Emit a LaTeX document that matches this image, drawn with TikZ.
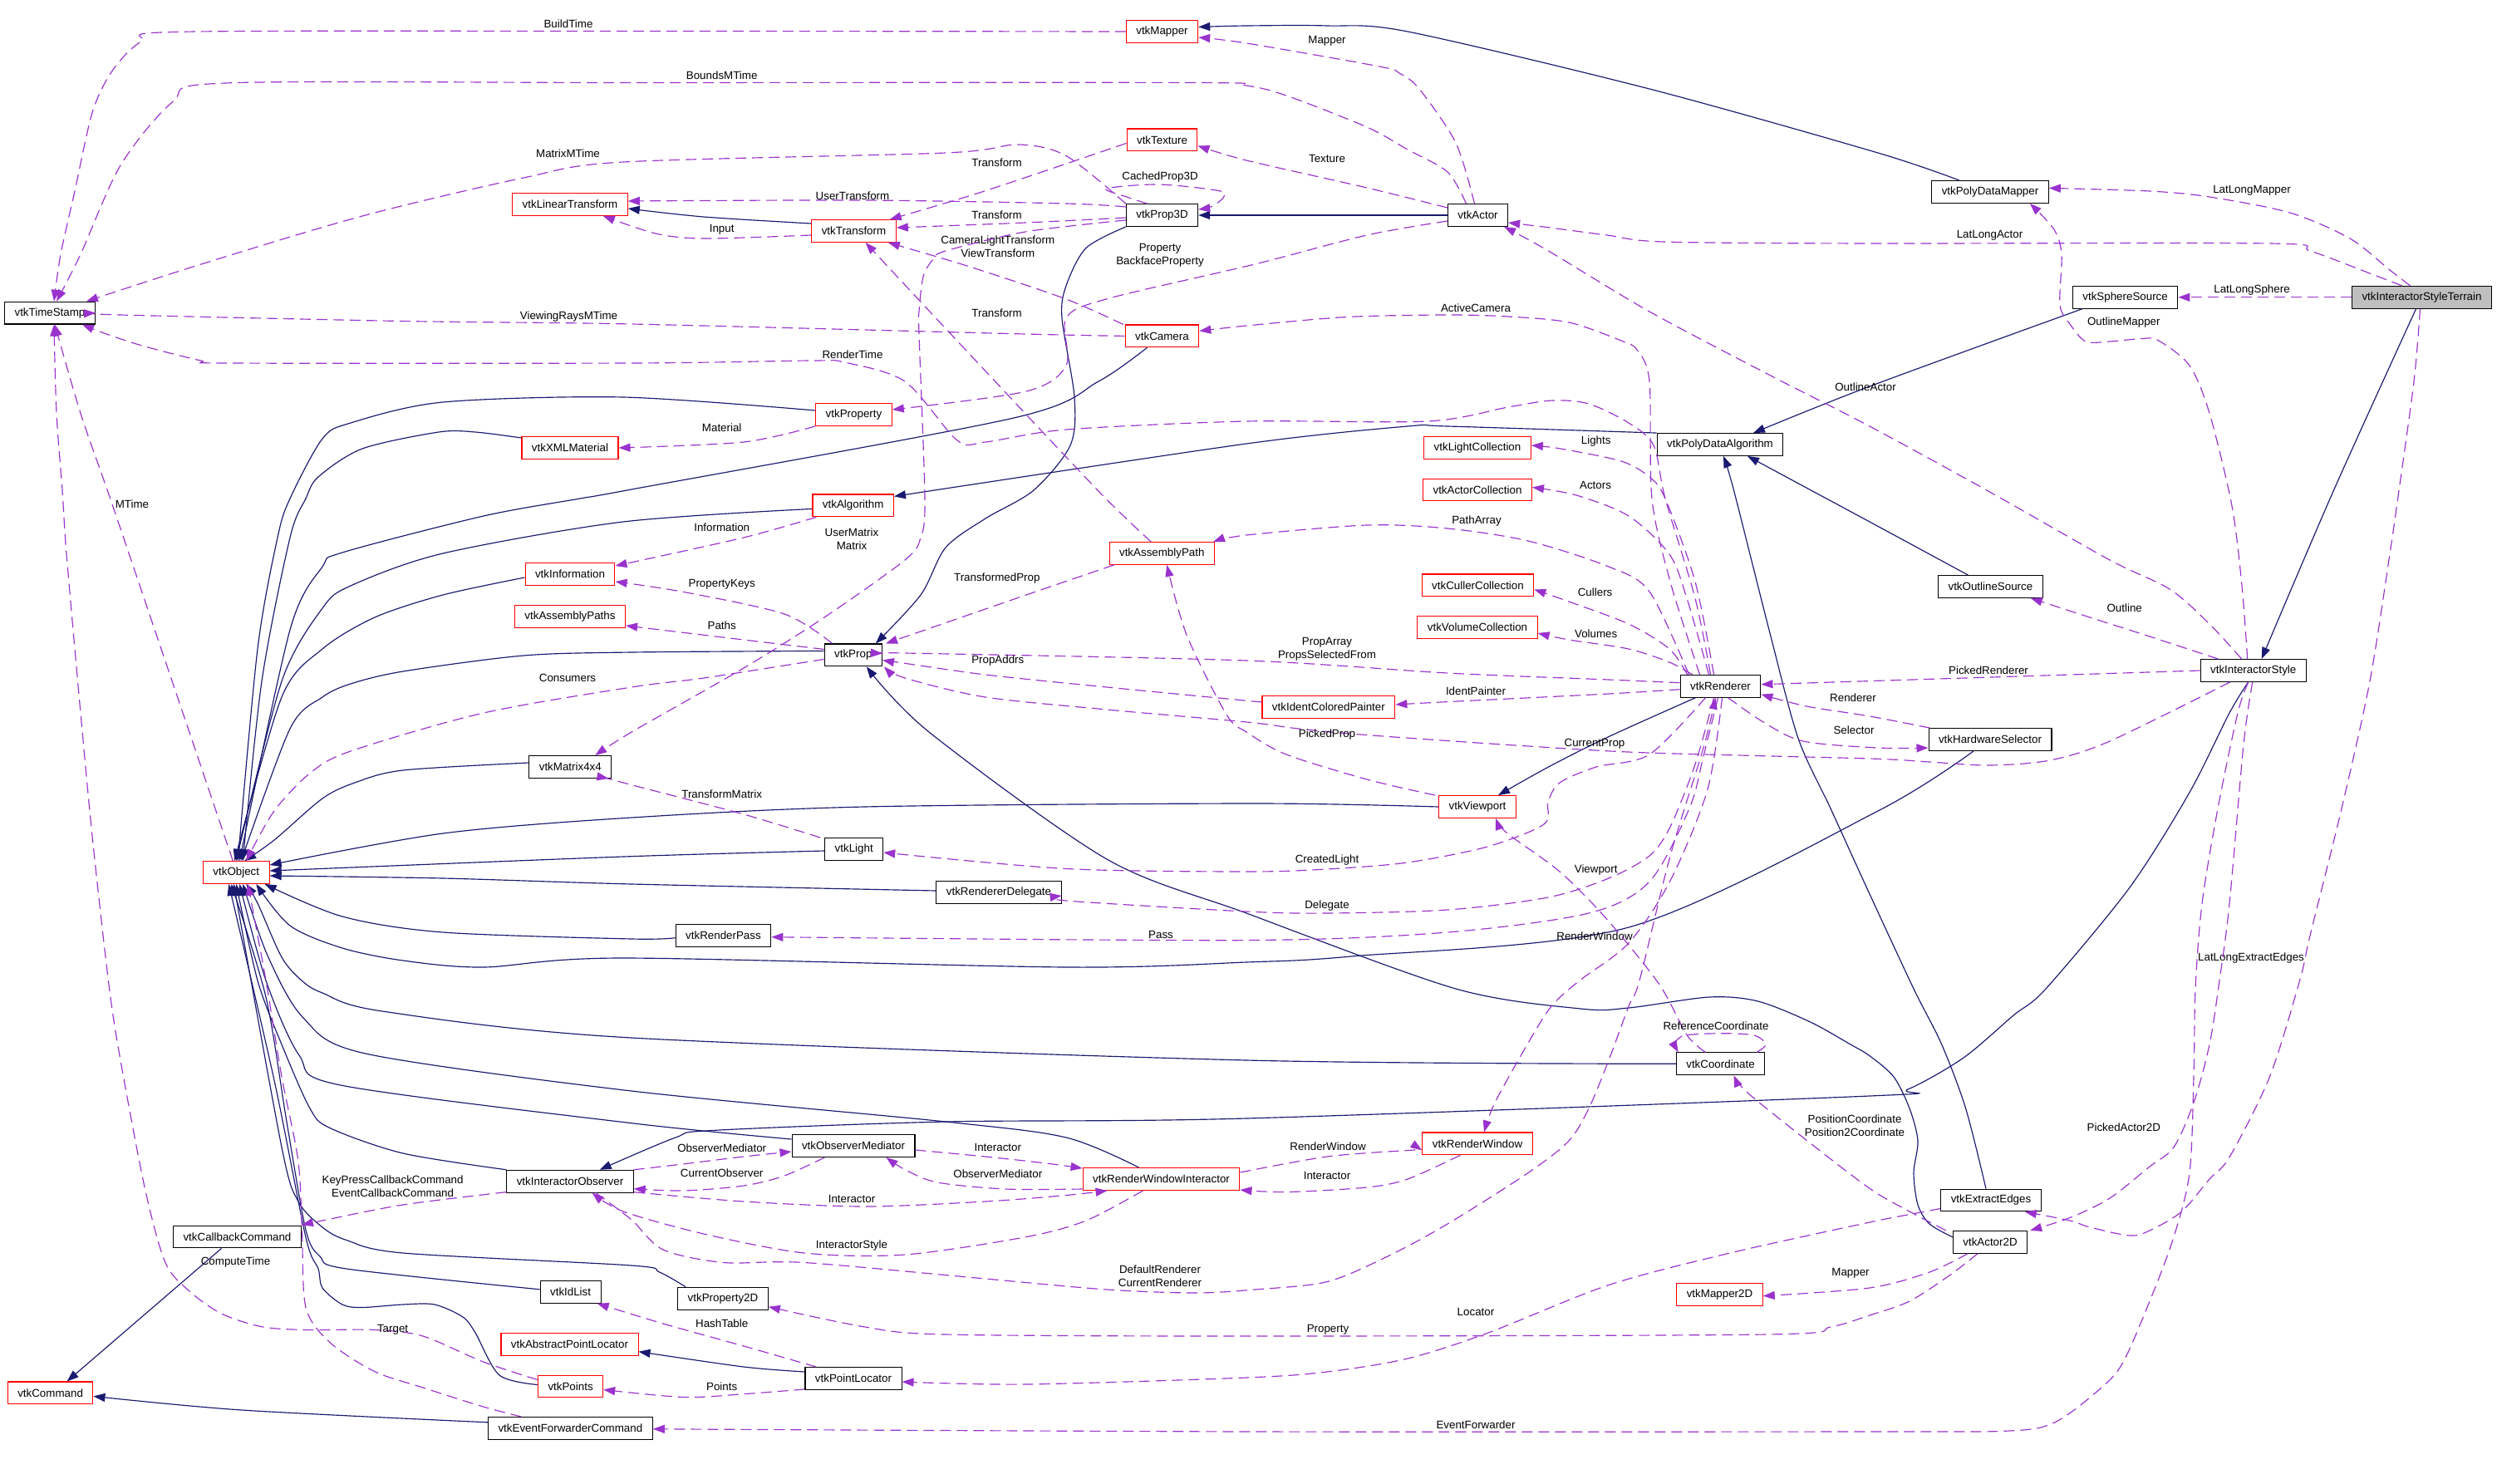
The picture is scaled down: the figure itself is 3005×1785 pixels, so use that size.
\documentclass[tikz,border=0pt]{standalone}
\usepackage{fontspec}
\usetikzlibrary{arrows.meta,calc}
\newfontfamily\lsans{Liberation Sans}
\newcommand\myfnt{\lsans\fontsize{3.8pt}{4.55pt}\selectfont}
\definecolor{navyc}{HTML}{191970}
\definecolor{orch}{HTML}{9A32CD}
\definecolor{grayfill}{HTML}{BFBFBF}
\tikzset{
 cls/.style={draw=black, line width=0.3pt, rectangle, inner xsep=1.2mm, inner ysep=0pt, minimum height=2.68mm, font=\myfnt},
 rcls/.style={cls, draw=red},
 lbl/.style={font=\myfnt, inner sep=0pt, align=center},
 inh/.style={draw=navyc, line width=0.33pt, -{Triangle[length=1.4mm,width=1.0mm]}},
 dep/.style={draw=orch, line width=0.33pt, dash pattern=on 1.3mm off 0.7mm, -{Triangle[length=1.4mm,width=1.0mm]}}
}
\begin{document}
\begin{tikzpicture}[x=0.1mm,y=-0.1mm]
\useasboundingbox (0,0) rectangle (3005,1785);
\fill[white] (0,0) rectangle (3005,1785);
% nodes
\node[cls] (ts) at (60,376.6) {vtkTimeStamp};
\node[rcls] (lintr) at (686,246) {vtkLinearTransform};
\node[rcls] (xmlmat) at (686,539) {vtkXMLMaterial};
\node[rcls] (mapper) at (1398.5,38) {vtkMapper};
\node[rcls] (texture) at (1398.5,168.4) {vtkTexture};
\node[cls] (prop3d) at (1398.5,259) {vtkProp3D};
\node[rcls] (transform) at (1027.5,278) {vtkTransform};
\node[rcls] (camera) at (1398.5,404.4) {vtkCamera};
\node[rcls] (property) at (1027.5,499) {vtkProperty};
\node[cls] (actor) at (1778.5,259) {vtkActor};
\node[cls] (pda) at (2070,535) {vtkPolyDataAlgorithm};
\node[rcls] (lightcoll) at (1778,539) {vtkLightCollection};
\node[rcls] (actorcoll) at (1778,589.5) {vtkActorCollection};
\node[cls] (pdm) at (2395,231) {vtkPolyDataMapper};
\node[cls] (sphere) at (2557.6,357.8) {vtkSphereSource};
\node[cls, fill=grayfill] (terrain) at (2914.5,357.8) {vtkInteractorStyleTerrain};
\node[rcls] (info) at (686,691) {vtkInformation};
\node[rcls] (apaths) at (686,742) {vtkAssemblyPaths};
\node[cls] (matrix) at (686.3,923) {vtkMatrix4x4};
\node[rcls] (object) at (284.3,1050) {vtkObject};
\node[rcls] (algo) at (1026.7,608.4) {vtkAlgorithm};
\node[rcls] (apath) at (1398.3,666) {vtkAssemblyPath};
\node[cls] (prop) at (1026.8,788.4) {vtkProp};
\node[cls] (light) at (1027.7,1022) {vtkLight};
\node[cls] (rdelegate) at (1202,1074) {vtkRendererDelegate};
\node[cls] (rpass) at (870.5,1125.7) {vtkRenderPass};
\node[rcls] (culler) at (1778.5,704.4) {vtkCullerCollection};
\node[rcls] (volcoll) at (1778,755) {vtkVolumeCollection};
\node[cls] (renderer) at (2070.5,825.7) {vtkRenderer};
\node[rcls] (icp) at (1598.9,851) {vtkIdentColoredPainter};
\node[rcls] (viewport) at (1778,971) {vtkViewport};
\node[cls] (outline) at (2395.4,706) {vtkOutlineSource};
\node[cls] (istyle) at (2711.7,807) {vtkInteractorStyle};
\node[cls] (hws) at (2395,890) {vtkHardwareSelector};
\node[cls] (iobs) at (686,1421.7) {vtkInteractorObserver};
\node[cls] (cbcmd) at (285.5,1488.5) {vtkCallbackCommand};
\node[cls] (idlist) at (686.6,1554.8) {vtkIdList};
\node[rcls] (apl) at (685.5,1617.7) {vtkAbstractPointLocator};
\node[rcls] (points) at (686.6,1668.5) {vtkPoints};
\node[rcls] (command) at (60.6,1676.4) {vtkCommand};
\node[cls] (efc) at (686.4,1718.8) {vtkEventForwarderCommand};
\node[cls] (obsmed) at (1027,1379) {vtkObserverMediator};
\node[rcls] (rwi) at (1397.5,1419) {vtkRenderWindowInteractor};
\node[cls] (prop2d) at (870,1562.7) {vtkProperty2D};
\node[cls] (ploc) at (1027,1659) {vtkPointLocator};
\node[rcls] (rwin) at (1778,1376.4) {vtkRenderWindow};
\node[cls] (coord) at (2070.5,1280.3) {vtkCoordinate};
\node[rcls] (mapper2d) at (2069.5,1557.7) {vtkMapper2D};
\node[cls] (extract) at (2396,1444.5) {vtkExtractEdges};
\node[cls] (actor2d) at (2395,1494.8) {vtkActor2D};
% inheritance
\draw[inh] plot[smooth] coordinates {($(pdm.north)+(-37,0)$) (2260,184) (1985,107) (1694,38) (1597,31) (1500,31) ($(mapper.east)+(0,-5.5)$)};
\draw[inh] (actor.west) -- (prop3d.east);
\draw[inh] plot[smooth] coordinates {(prop3d.south west) (1307,298.5) (1283,344) (1278,383) (1293,478) (1288,536) (1244,590) (1186,624) (1138,659) (1108,716) ($(prop.north)+(27,0)$)};
\draw[inh] plot[smooth] coordinates {($(transform.west)+(0,-9)$) (847,261) ($(lintr.east)+(0,5)$)};
\draw[inh] plot[smooth] coordinates {($(camera.south)+(-18,0)$) (1322,459) (1220,503) (760,589) (698,600) (582,621) (412,665) (388,682) (349,758) ($(object.north)+(4,0)$)};
\draw[inh] plot[smooth] coordinates {($(property.west)+(0,-5)$) (750,478) (533,484) (422,509) (388,528) (349,600) (334,647) (310,781) ($(object.north)+(2,0)$)};
\draw[inh] plot[smooth] coordinates {($(xmlmat.west)+(0,-12)$) (572,520) (528,520) (436,540) (383,574) (368,600) (349,647) (315,820) ($(object.north)+(8,0)$)};
\draw[inh] plot[smooth] coordinates {(pda.north west) (1742,513) (1694,513) (1500,534) ($(algo.east)+(0,-11)$)};
\draw[inh] plot[smooth] coordinates {($(algo.west)+(0,4)$) (750,628) (533,666) (422,705) (388,732) (339,820) (object.north)};
\draw[inh] plot[smooth] coordinates {($(info.west)+(0,4)$) (533,716) (451,743) (388,781) (339,839) ($(object.north)+(-2,0)$)};
\draw[inh] plot[smooth] coordinates {($(prop.west)+(0,-5)$) (760,785) (630,789) (485,808) (422,823) (388,839) (349,877) ($(object.north)+(6,0)$)};
\draw[inh] plot[smooth] coordinates {($(matrix.west)+(0,-5)$) (485,927) (427,942) (388,961) (330,1011) ($(object.north)+(10,0)$)};
\draw[inh] plot[smooth] coordinates {($(light.west)+(0,2)$) (750,1031) ($(object.east)+(0,-2)$)};
\draw[inh] plot[smooth] coordinates {(viewport.west) (1510,967) (1040,971) (760,984) (533,1003) ($(object.east)+(0,-9)$)};
\draw[inh] plot[smooth] coordinates {($(rdelegate.west)+(0,-2)$) (760,1064) (533,1057) ($(object.east)+(0,4)$)};
\draw[inh] plot[smooth] coordinates {($(rpass.west)+(0,3)$) (760,1130) (533,1122) (412,1103) ($(object.south east)+(-6,0)$)};
\draw[inh] plot[smooth] coordinates {($(hws.south)+(-20,0)$) (2260,976) (1960,1116) (1626,1151) (1500,1158) (1283,1164) (750,1153) (582,1164) (485,1156) (412,1141) (349,1114) ($(object.south)+(24,0)$)};
\draw[inh] plot[smooth] coordinates {($(renderer.south west)+(19,0)$) (1936,886.6) (1863.5,923) ($(viewport.north)+(25,0)$)};
\draw[inh] plot[smooth] coordinates {($(sphere.south west)+(12,0)$) (2250,465) ($(pda.north)+(40,0)$)};
\draw[inh] plot[smooth] coordinates {($(outline.north)+(-27,0)$) (2250,628) ($(pda.south)+(33,0)$)};
\draw[inh] plot[smooth] coordinates {($(extract.north)+(-6,0)$) (2365.6,1334) (2336.7,1257) (2303,1190) (2250,1076) (2203,973) (2164,888.5) (2130,762) (2086.5,590) ($(pda.south)+(4,0)$)};
\draw[inh] plot[smooth] coordinates {($(terrain.south)+(-7,0)$) (2808.5,590) ($(istyle.north)+(10,0)$)};
\draw[inh] plot[smooth] coordinates {($(istyle.south)+(-6,0)$) (2683,858) (2635,953.6) (2563,1068) (2462,1190) (2423,1222) (2363,1273) (2296,1311) (2250,1319) (1500,1346) (1138,1350) (857,1360.5) (813,1369) ($(iobs.north east)+(-41,0)$)};
\draw[inh] plot[smooth] coordinates {(coord.west) (1500,1276) (760,1249) (460,1217) (388,1195) (363,1180) (339,1152) (310,1087) ($(object.south)+(12,0)$)};
\draw[inh] plot[smooth] coordinates {($(actor2d.west)+(0,-6)$) (2322,1473) (2308,1450) (2303,1411.5) (2308,1373) (2298,1334) (2279,1296) (2250,1270.7) (2227,1257) (2178.6,1230) (2115.6,1205) (2057,1200) (1960,1213) (1902,1214) (1752,1190) (1500,1099) (1332,1034) (1118,881) ($(prop.south)+(16,0)$)};
\draw[inh] plot[smooth] coordinates {($(rwi.north)+(-27,0)$) (1283,1369) (1138,1350) (760,1313) (440,1268) (365,1225) (322,1150) ($(object.south)+(8,0)$)};
\draw[inh] plot[smooth] coordinates {($(obsmed.west)+(0,-8)$) (760,1351.7) (410,1306) (360,1270) (320,1180) ($(object.south)+(4,0)$)};
\draw[inh] plot[smooth] coordinates {(iobs.north west) (485,1388) (397,1357.5) (373,1334) (339,1257) (310,1180) (object.south)};
\draw[inh] plot[smooth] coordinates {($(prop2d.north west)+(10,0)$) (793.6,1531) (760,1523) (485,1508) (417,1492.5) (388,1477) (359,1446) (339,1380.6) ($(object.south)+(-3,0)$)};
\draw[inh] plot[smooth] coordinates {($(idlist.west)+(0,-3)$) (417,1527) (385,1512) (368,1480) (345,1350) (320,1200) ($(object.south)+(-6,0)$)};
\draw[inh] plot[smooth] coordinates {($(points.west)+(0,-2)$) (601,1655) (572,1604) (557,1585) (523,1570) (485,1570) (436,1573.5) (412,1570) (388,1550) (383,1527) (368,1489) (330,1300) ($(object.south)+(-9,0)$)};
\draw[inh] ($(cbcmd.south)+(-19,0)$) -- ($(command.north)+(20,0)$);
\draw[inh] plot[smooth] coordinates {($(efc.west)+(0,-7)$) (291,1697) ($(command.east)+(0,4)$)};
\draw[inh] plot[smooth] coordinates {($(ploc.west)+(0,-8)$) (895,1645) ($(apl.east)+(0,9)$)};
% usage
\draw[dep] plot[smooth] coordinates {(mapper.west) (760,37.5) (218,38.3) (170,50) (136,84) (111.5,134) (90,230) (73,306) ($(ts.north)+(5,0)$)};
\node[lbl] (l1) at (684,29) {BuildTime};
\draw[dep] plot[smooth] coordinates {($(actor.north)+(-14,0)$) (1742,207) (1694,180) (1645,153) (1548,115) (1500,103) (1438,99.5) (760,99.5) (271,100) (208,122.5) (145,199) (97,306) ($(ts.north)+(8,0)$)};
\node[lbl] (l2) at (868.7,90.7) {BoundsMTime};
\draw[dep] plot[smooth] coordinates {(prop3d.north west) (1283,187.5) (1225,174) (1138,184) (750,195) (630,214) (436,260) (242,318) ($(ts.north east)+(-11,0)$)};
\node[lbl] (l3) at (683.5,184.5) {MatrixMTime};
\draw[dep] plot[smooth] coordinates {(camera.west) (1234,402) (760,390) (485,386.5) (145,379) (ts.east)};
\node[lbl] (l4) at (684.5,381) {ViewingRaysMTime};
\draw[dep] plot[smooth] coordinates {($(renderer.north)+(-12,0)$) (2040,720) (2004,600) (1990,536) (1960,509) (1912,486) (1868,482) (1815,490) (1718,507) (1500,507) (1283,517) (1186,532) (1152,530) (1089,459) (1016,436) (978,434) (760,437) (276,437) (242,434) (174.5,417) (128,402) ($(ts.south east)+(-16,0)$)};
\node[lbl] (l5) at (1026,426.7) {RenderTime};
\draw[dep] plot[smooth] coordinates {($(object.north)+(-4,0)$) (194,781) (133,601) (97,497.5) ($(ts.south)+(6,0)$)};
\node[lbl] (l6) at (159,606.5) {MTime};
\draw[dep] plot[smooth] coordinates {($(points.north west)+(0,6)$) (581.6,1639) (509,1608) (451,1600.5) (368,1600.5) (315,1596.7) (266.6,1581) (228,1554) (199,1519.5) (174.5,1430.8) (145,1276) (131,1185) (111.5,1011) (97,858) (80,666.5) (75,590) (68,497.5) ($(ts.south)+(5,0)$)};
\node[lbl] (l7) at (283.5,1519.5) {ComputeTime};
\draw[dep] plot[smooth] coordinates {($(efc.north west)+(40,0)$) (581.6,1693) (509,1670) (451,1650.7) (397.5,1616) (368,1573.5) (363.5,1481) (358.7,1396) (339,1295.7) (320,1180) ($(object.south)+(14,0)$)};
\node[lbl] (l8) at (472.6,1600.5) {Target};
\draw[dep] plot[smooth] coordinates {($(prop.west)+(0,5)$) (847,816) (760,827) (582,858) (422,904) (373,930.6) (329.6,976.5) ($(object.north)+(12,0)$)};
\node[lbl] (l9) at (683,816) {Consumers};
\draw[dep] plot[smooth] coordinates {($(actor.north)+(-4,0)$) (1752,172) (1708,107) (1684,88) (1660,80) (1500,52) ($(mapper.east)+(0,7)$)};
\node[lbl] (l10) at (1597,49) {Mapper};
\draw[dep] plot[smooth] coordinates {($(actor.west)+(0,-9)$) (1645,226) (1500,193) ($(texture.east)+(0,7)$)};
\node[lbl] (l11) at (1597,190.6) {Texture};
\draw[dep] plot[smooth] coordinates {($(actor.west)+(0,7)$) (1645,283) (1510,318) (1331,360) (1283,383) (1283,440) (1235,471) ($(property.east)+(0,-6)$)};
\node[lbl] (l12) at (1396,306.8) {Property\\BackfaceProperty};
\draw[dep] plot[smooth] coordinates {($(prop3d.north)+(-18,0)$) (1356,237) (1331.6,227) (1394.6,222) (1467,229.6) (1472,238) (1457.6,248.7) ($(prop3d.east)+(0,-7)$)};
\node[lbl] (l13) at (1396,212.8) {CachedProp3D};
\draw[dep] plot[smooth] coordinates {($(prop3d.west)+(0,3)$) (1234,268) ($(transform.east)+(0,-4)$)};
\node[lbl] (l14) at (1199.6,258.7) {Transform};
\draw[dep] plot[smooth] coordinates {($(prop3d.west)+(0,-10)$) (1283,245) (1041,241) ($(lintr.east)+(0,-4)$)};
\node[lbl] (l15) at (1026,235.7) {UserTransform};
\draw[dep] plot[smooth] coordinates {($(transform.west)+(0,5)$) (847,287) (789,281) ($(lintr.south east)+(-30,0)$)};
\node[lbl] (l16) at (868.7,276) {Input};
\draw[dep] plot[smooth] coordinates {($(texture.west)+(0,4)$) (1186,229.6) ($(transform.north east)+(-8,0)$)};
\node[lbl] (l17) at (1199.6,195.6) {Transform};
\draw[dep] plot[smooth] coordinates {($(camera.north west)+(-2,0)$) (1283,360) (1167,321) ($(transform.south east)+(-10,0)$)};
\node[lbl] (l18) at (1200.8,297) {CameraLightTransform\\ViewTransform};
\draw[dep] plot[smooth] coordinates {($(apath.north)+(-13,0)$) (1321,590) (1162,421) ($(transform.south)+(14,0)$)};
\node[lbl] (l19) at (1199.6,377) {Transform};
\draw[dep] plot[smooth] coordinates {(property.south west) (895,532) (xmlmat.east)};
\node[lbl] (l20) at (868.7,514.8) {Material};
\draw[dep] plot[smooth] coordinates {($(algo.south west)+(5,0)$) (895,647) ($(info.east)+(0,-10)$)};
\node[lbl] (l21) at (868.7,634.8) {Information};
\draw[dep] plot[smooth] coordinates {($(prop.north west)+(10,0)$) (944,739) (823,712.5) ($(info.east)+(0,9)$)};
\node[lbl] (l22) at (868.7,703.7) {PropertyKeys};
\draw[dep] plot[smooth] coordinates {($(prop.west)+(0,-7)$) (895,770) ($(apaths.east)+(0,11)$)};
\node[lbl] (l23) at (868.7,752.6) {Paths};
\draw[dep] plot[smooth] coordinates {($(prop3d.south west)+(0,-8)$) (1234,279) (1138,302) (1123,312) (1111,333) (1106,375) (1106,402) (1113,600) (1108,647) (1089,674) (992,743) (895,804) (760,881) ($(matrix.north east)+(-20,0)$)};
\node[lbl] (l24) at (1025,648.5) {UserMatrix\\Matrix};
\draw[dep] plot[smooth] coordinates {($(light.north west)+(-5,0)$) (895,980) (750,942) ($(matrix.south east)+(-4,0)$)};
\node[lbl] (l25) at (868.7,955.7) {TransformMatrix};
\draw[dep] plot[smooth] coordinates {($(apath.south west)+(6,0)$) (1235,716) ($(prop.north east)+(4,0)$)};
\node[lbl] (l26) at (1199.8,696) {TransformedProp};
\draw[dep] plot[smooth] coordinates {($(renderer.west)+(0,-4)$) (1936,818) (1742,810) (1500,795) (1089,786) ($(prop.east)+(0,-2)$)};
\node[lbl] (l27) at (1597,780.8) {PropArray\\PropsSelectedFrom};
\draw[dep] plot[smooth] coordinates {($(renderer.west)+(0,4)$) (1936,835) (1742,844.6) ($(icp.east)+(0,-3)$)};
\node[lbl] (l28) at (1776,832) {IdentPainter};
\draw[dep] plot[smooth] coordinates {($(icp.west)+(0,-6)$) (1332,827) (1186,812) (1080,797) ($(prop.east)+(0,6)$)};
\node[lbl] (l29) at (1200.8,794.7) {PropAddrs};
\draw[dep] plot[smooth] coordinates {($(istyle.south west)+(36,0)$) (2539,892) (2467,915) (2394,921) (2322,917) (2250,913) (1984,906) (1839,898) (1645,884.6) (1563,877) (1500,869) (1332,854) (1186,839) (1089,816) ($(prop.south east)+(2,0)$)};
\node[lbl] (l30) at (1919,895) {CurrentProp};
\draw[dep] plot[smooth] coordinates {($(viewport.north west)+(-4,0)$) (1645,938) (1548,908) (1500,881) (1476,860) (1428,764) ($(apath.south)+(6,0)$)};
\node[lbl] (l31) at (1597,884) {PickedProp};
\draw[dep] plot[smooth] coordinates {($(renderer.south)+(-18,0)$) (1985,908) (1921,923) (1877,942) (1863,965) (1858,992) (1790,1019) (1694,1038) (1597,1046) (1500,1049) (1283,1045.5) ($(light.east)+(0,4)$)};
\node[lbl] (l32) at (1597,1034.7) {CreatedLight};
\draw[dep] plot[smooth] coordinates {($(renderer.south)+(-8,0)$) (2040,920) (2010,995) (1985,1030) (1936,1057) (1863,1080) (1742,1095) (1597,1099) (1500,1097) (1283,1084) ($(rdelegate.east)+(0,4)$)};
\node[lbl] (l33) at (1597,1090.5) {Delegate};
\draw[dep] plot[smooth] coordinates {($(renderer.south)+(-3,0)$) (2050,910) (2033,973) (1985,1061) (1912,1099) (1742,1122) (1500,1131.6) ($(rpass.east)+(0,2)$)};
\node[lbl] (l34) at (1397,1125) {Pass};
\draw[dep] plot[smooth] coordinates {($(renderer.south)+(2,0)$) (2055,950) (2010,1060) (1960,1135) (1901,1180) (1867,1211) (1838,1257) (1799,1327) ($(rwin.north)+(8,0)$)};
\node[lbl] (l35) at (1919,1126.5) {RenderWindow};
\draw[dep] plot[smooth] coordinates {($(renderer.north)+(-25,0)$) (2010,700) (1988,600) (1985,459) (1970,421) (1951,410) (1888,388) (1815,381) (1742,379) (1621,381.5) (1500,392) ($(camera.east)+(0,-6)$)};
\node[lbl] (l36) at (1776,370.5) {ActiveCamera};
\draw[dep] plot[smooth] coordinates {($(renderer.north)+(-8,0)$) (2040,700) (2004,600) (1985,574) (1951,555) (1878,540) ($(lightcoll.east)+(0,-3)$)};
\node[lbl] (l37) at (1920.7,531) {Lights};
\draw[dep] plot[smooth] coordinates {($(renderer.north)+(-14,0)$) (2030,720) (2009,667) (1960,621) (1897,596) ($(actorcoll.east)+(0,-3)$)};
\node[lbl] (l38) at (1920,583.6) {Actors};
\draw[dep] plot[smooth] coordinates {($(renderer.north)+(-38,0)$) (1985,712) (1936,682) (1839,651) (1742,636) (1645,632) (1500,644) ($(apath.north east)+(-2,0)$)};
\node[lbl] (l39) at (1777,626.7) {PathArray};
\draw[dep] plot[smooth] coordinates {($(renderer.north)+(-40,0)$) (2009,781) (1960,751) (1888,724) ($(culler.east)+(0,5)$)};
\node[lbl] (l40) at (1919.6,712.5) {Cullers};
\draw[dep] plot[smooth] coordinates {($(renderer.north)+(-34,0)$) (2009,797) (1960,781) (1888,770) ($(volcoll.east)+(0,7)$)};
\node[lbl] (l41) at (1920.7,762.6) {Volumes};
\draw[dep] plot[smooth] coordinates {($(terrain.north)+(-14,0)$) (2876,325) (2828,287) (2755.6,256) (2659,237) (2587,230) ($(pdm.east)+(0,-4.6)$)};
\node[lbl] (l42) at (2710,229) {LatLongMapper};
\draw[dep] plot[smooth] coordinates {($(terrain.north)+(-24,0)$) (2852,329) (2780,302) (2731.5,293) (2250,293) (2002,291) (1934,283) (1862,273.6) ($(actor.east)+(0,9)$)};
\node[lbl] (l43) at (2394.5,283.6) {LatLongActor};
\draw[dep] (terrain.west) -- (sphere.east);
\node[lbl] (l44) at (2710,348.6) {LatLongSphere};
\draw[dep] plot[smooth] coordinates {($(terrain.south)+(-2,0)$) (2905,459) (2885.6,600) (2876,666.5) (2852,819.6) (2818,973) (2780,1126) (2767.6,1180) (2731.5,1295.7) (2683.4,1392) (2659,1419) (2625.6,1458) (2587,1481) (2563,1487) (2515,1477) (2491,1469) ($(extract.south east)+(-20,0)$)};
\node[lbl] (l45) at (2709,1153) {LatLongExtractEdges};
\draw[dep] plot[smooth] coordinates {($(istyle.south)+(-6,0)$) (2693,858) (2669,973) (2650,1087.5) (2642,1190) (2640,1296) (2635,1411.5) (2616,1488.6) (2587,1566) (2553,1643) (2520,1677.7) (2471.5,1712.4) (2418.5,1722) (2250,1723) (1510,1723) ($(efc.east)+(0,1)$)};
\node[lbl] (l46) at (1776,1714.7) {EventForwarder};
\draw[dep] plot[smooth] coordinates {($(istyle.south)+(-1,0)$) (2700,896) (2683,1087.5) (2671,1180) (2659,1257) (2640,1327) (2616,1380.6) (2587,1404) (2539,1442) (2491,1465.5) ($(actor2d.north east)+(3,0)$)};
\node[lbl] (l47) at (2555.8,1356.7) {PickedActor2D};
\draw[dep] plot[smooth] coordinates {($(istyle.north west)+(22,0)$) (2587,766) (2515,743) ($(outline.south east)+(-15,0)$)};
\node[lbl] (l48) at (2556.7,731.6) {Outline};
\draw[dep] plot[smooth] coordinates {($(istyle.north)+(-14,0)$) (2659,751) (2611,709) (2539,674) (2394.5,592) (2250,513) (2130,451.6) (1985,375) (1863.5,302) ($(actor.south east)+(-5,0)$)};
\node[lbl] (l49) at (2245,466) {OutlineActor};
\draw[dep] plot[smooth] coordinates {($(istyle.north)+(-7,0)$) (2698,705) (2686,609) (2659,497.5) (2635,440) (2597,409.5) (2577,407.6) (2539,411) (2510,411) (2491,390) (2479,367) (2481,306) (2471.5,275.5) ($(pdm.south east)+(-23,0)$)};
\node[lbl] (l50) at (2555.8,387.7) {OutlineMapper};
\draw[dep] plot[smooth] coordinates {(istyle.west) (2491,812) (2250,819.6) ($(renderer.east)+(0,-2)$)};
\node[lbl] (l51) at (2393,806.6) {PickedRenderer};
\draw[dep] plot[smooth] coordinates {($(hws.north west)+(2,0)$) (2250,862) (2174,850) ($(renderer.east)+(0,10)$)};
\node[lbl] (l52) at (2230,839.5) {Renderer};
\draw[dep] plot[smooth] coordinates {($(renderer.south)+(9,0)$) (2122,869) (2170,892) (2260,900) ($(hws.west)+(0,10)$)};
\node[lbl] (l53) at (2231,879) {Selector};
\draw[dep] plot[smooth] coordinates {($(coord.north)+(-18,0)$) (2030,1245.6) (1997,1185) (1934,1106.6) (1877,1049) (1814,1003) ($(viewport.south)+(22,0)$)};
\node[lbl] (l54) at (1920.7,1047) {Viewport};
\draw[dep] plot[smooth] coordinates {($(coord.north east)+(-10,0)$) (2125,1257) (2111,1246) (2072,1243.7) (2028,1246) (2016,1255) ($(coord.north west)+(3,0)$)};
\node[lbl] (l55) at (2065,1234.8) {ReferenceCoordinate};
\draw[dep] plot[smooth] coordinates {($(actor2d.south)+(-27,0)$) (2322,1531) (2250,1550) ($(mapper2d.east)+(0,2)$)};
\node[lbl] (l56) at (2227,1532.6) {Mapper};
\draw[dep] plot[smooth] coordinates {($(actor2d.south)+(-15,0)$) (2346,1535) (2298,1566) (2250,1583) (2203,1597) (2126,1606) (1500,1608) (1138,1606) (1041,1597) ($(prop2d.east)+(0,10)$)};
\node[lbl] (l57) at (1598,1600) {Property};
\draw[dep] plot[smooth] coordinates {($(actor2d.north west)+(-8,0)$) (2298,1458) (2251,1431) (2175,1373) (2103,1315) ($(coord.south)+(16,0)$)};
\node[lbl] (l58) at (2232,1354.6) {PositionCoordinate\\Position2Coordinate};
\draw[dep] plot[smooth] coordinates {($(extract.west)+(0,10)$) (2298,1461.6) (2250,1471) (2082,1508) (1936,1546.5) (1791,1604) (1694,1635) (1597,1651) (1500,1658) (1235,1666) ($(ploc.east)+(0,4)$)};
\node[lbl] (l59) at (1776,1578.5) {Locator};
\draw[dep] plot[smooth] coordinates {($(ploc.north west)+(14,0)$) (895,1620) (798,1593) ($(idlist.south east)+(-5,0)$)};
\node[lbl] (l60) at (868.7,1592.8) {HashTable};
\draw[dep] plot[smooth] coordinates {($(ploc.south west)+(0,-1)$) (895,1677.7) (823,1681.5) ($(points.east)+(0,4)$)};
\node[lbl] (l61) at (868.7,1668.4) {Points};
\draw[dep] plot[smooth] coordinates {(iobs.north east) (813,1402) (895,1392) ($(obsmed.west)+(0,7)$)};
\node[lbl] (l62) at (868.7,1382) {ObserverMediator};
\draw[dep] plot[smooth] coordinates {($(obsmed.south west)+(40,0)$) (944,1415) (895,1427) (823,1433) ($(iobs.east)+(0,9)$)};
\node[lbl] (l63) at (868.7,1412) {CurrentObserver};
\draw[dep] plot[smooth] coordinates {($(obsmed.east)+(0,5)$) (1186,1392) (1259,1400) ($(rwi.west)+(0,-13)$)};
\node[lbl] (l64) at (1200.8,1380.6) {Interactor};
\draw[dep] plot[smooth] coordinates {($(rwi.west)+(0,12)$) (1210,1431) (1128,1423) (1089,1407.6) ($(obsmed.south east)+(-35,0)$)};
\node[lbl] (l65) at (1200.8,1412.6) {ObserverMediator};
\draw[dep] plot[smooth] coordinates {($(iobs.east)+(0,13)$) (895,1446) (1041,1452) (1186,1446) (1283,1438.5) ($(rwi.south west)+(30,0)$)};
\node[lbl] (l66) at (1025,1442.7) {Interactor};
\draw[dep] plot[smooth] coordinates {($(rwi.south)+(-22,0)$) (1307,1469) (1235,1488.6) (1089,1510) (968,1508) (847,1485) (750,1458) ($(iobs.south east)+(-50,0)$)};
\node[lbl] (l67) at (1025,1498.7) {InteractorStyle};
\draw[dep] plot[smooth] coordinates {($(rwi.east)+(0,-8)$) (1597,1392) (1694,1384.5) ($(rwin.west)+(0,8)$)};
\node[lbl] (l68) at (1598,1379.8) {RenderWindow};
\draw[dep] plot[smooth] coordinates {($(rwin.south west)+(46,0)$) (1694,1419) (1645,1429) (1548,1434.6) ($(rwi.east)+(0,13)$)};
\node[lbl] (l69) at (1597,1414.6) {Interactor};
\draw[dep] plot[smooth] coordinates {($(iobs.south west)+(0,-1)$) (485,1450) (388,1469) (cbcmd.north east)};
\node[lbl] (l70) at (472.6,1427.7) {KeyPressCallbackCommand\\EventCallbackCommand};
\draw[dep] plot[smooth] coordinates {($(iobs.south)+(31,0)$) (760,1468) (798,1504) (871,1519.5) (968,1519.5) (1186,1539) (1332,1552) (1438,1556) (1510,1552) (1597,1542.6) (1670,1512) (1742,1473) (1839,1411.5) (1888,1373) (1912,1334) (1936,1276) (1960,1211) (1973,1180) (2010,1030) (2050,900) ($(renderer.south)+(-6,0)$)};
\node[lbl] (l71) at (1396,1536) {DefaultRenderer\\CurrentRenderer};
\end{tikzpicture}
\end{document}
